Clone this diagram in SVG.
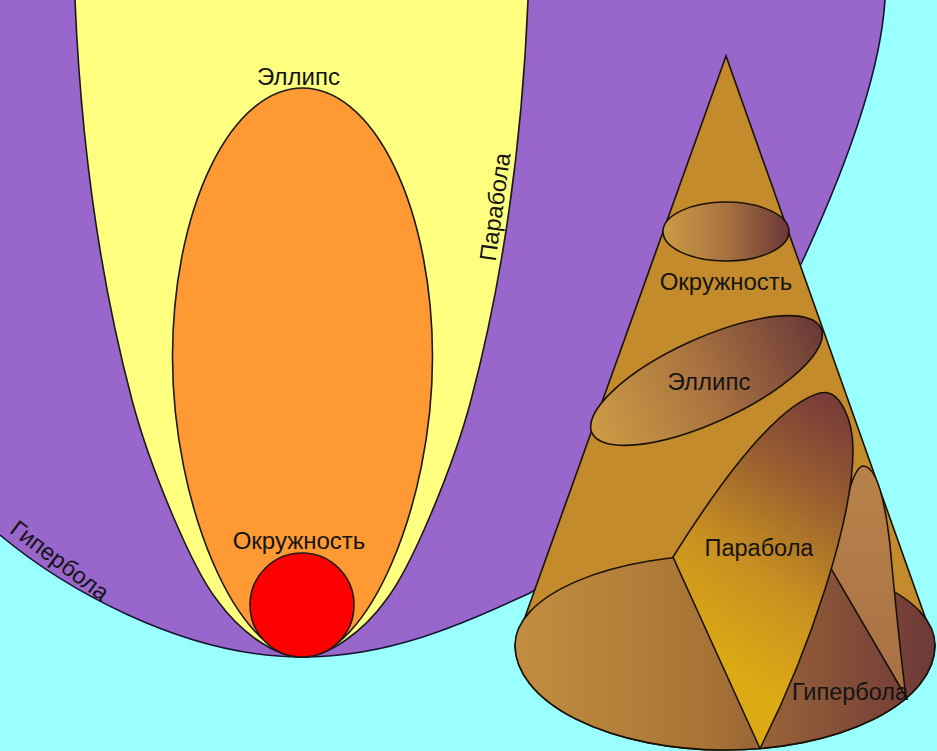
<svg xmlns="http://www.w3.org/2000/svg" width="937" height="751" viewBox="0 0 937 751">
<defs>
<linearGradient id="gBase" gradientUnits="userSpaceOnUse" x1="515" y1="0" x2="935" y2="0">
<stop offset="0" stop-color="#c28e40"/><stop offset="0.45" stop-color="#a87436"/><stop offset="0.72" stop-color="#8a5538"/><stop offset="1" stop-color="#6e3838"/>
</linearGradient>
<linearGradient id="gCirc" gradientUnits="userSpaceOnUse" x1="663" y1="0" x2="789" y2="0">
<stop offset="0" stop-color="#cc9c44"/><stop offset="0.5" stop-color="#a87240"/><stop offset="1" stop-color="#6a3838"/>
</linearGradient>
<linearGradient id="gEll" gradientUnits="userSpaceOnUse" x1="580.5" y1="0" x2="832.5" y2="0">
<stop offset="0" stop-color="#cc9c44"/><stop offset="0.5" stop-color="#a87240"/><stop offset="1" stop-color="#6a3838"/>
</linearGradient>
<linearGradient id="gPar" gradientUnits="userSpaceOnUse" x1="700" y1="650" x2="850" y2="420">
<stop offset="0" stop-color="#dcaa14"/><stop offset="0.35" stop-color="#c89020"/><stop offset="0.7" stop-color="#9a6030"/><stop offset="1" stop-color="#7a3e38"/>
</linearGradient>
<linearGradient id="gHyp" gradientUnits="userSpaceOnUse" x1="0" y1="466" x2="0" y2="697">
<stop offset="0" stop-color="#b8824a"/><stop offset="1" stop-color="#a87044"/>
</linearGradient>
<style>
.lbl{font-family:"Liberation Sans",Arial,sans-serif;font-size:24px;fill:#141414;text-anchor:middle}
.sm{font-size:23.5px}
.edge{fill:none;stroke:#151530;stroke-width:1.6}
.ln{stroke:#1a1208;stroke-width:1.6}
</style>
</defs>
<rect width="937" height="751" fill="#99ffff"/>
<g id="hyperbola-region">
<path d="M0,0 L0,535 C60,585 180,657 302,657 C390,657 460,625 530,593 C650,520 760,350 803,260 C840,180 880,80 885,0 Z" fill="#9966cc"/>
<path class="edge" d="M0,535 C60,585 180,657 302,657 C390,657 460,625 530,593 C650,520 760,350 803,260 C840,180 880,80 885,0"/>
</g>
<g id="parabola-region">
<path d="M75,-10 L75,0 C80,120 95,260 132,400 C150,468 192,568 217,600 C240,632 275,657 301.5,657 C328,657 363,632 386,600 C411,568 453,468 471,400 C508,260 523,120 528,0 L528,-10 Z" fill="#ffff80" stroke="#1a1a1a" stroke-width="1.6"/>
</g>
<g id="ellipse-region">
<path d="M172.5,357 A130,269 0 0 1 432.5,357 C432.5,505 368,657 302.5,657 C237,657 172.5,505 172.5,357 Z" fill="#ff9933" stroke="#1a1a1a" stroke-width="1.6"/>
</g>
<g id="circle-region">
<circle cx="302" cy="605" r="52" fill="#ff0000" stroke="#1a1a1a" stroke-width="1.6"/>
</g>
<g id="left-labels">
<text class="lbl" x="298.5" y="85">Эллипс</text>
<text class="lbl" x="299" y="549">Окружность</text>
<text class="lbl sm" transform="translate(503,208) rotate(-82)" x="0" y="0">Парабола</text>
<text class="lbl sm" transform="translate(55,567) rotate(37)" x="0" y="0">Гипербола</text>
</g>
<g id="cone">
<path id="cone-body" class="ln" d="M726,56 L515,645 A210,105 0 0 0 935,645 Z" fill="#c38b2b"/>
<path id="cone-base" class="ln" d="M515,645 A210,90 0 0 1 935,645 A210,105 0 0 1 515,645 Z" fill="url(#gBase)"/>
<path id="hyperbola-section" class="ln" d="M830,567 C842,525 850,468 863,466 C878,466 886,510 890,545 C895,600 900,650 906,697 Z" fill="url(#gHyp)"/>
<path id="parabola-section" class="ln" d="M673,557 C715,490 775,405 820,393 C840,388 853,420 853,450 C853,520 810,650 760,748.5 Z" fill="url(#gPar)"/>
<ellipse id="circle-section" class="ln" cx="726" cy="231.5" rx="63" ry="29.5" fill="url(#gCirc)"/>
<ellipse id="ellipse-section" class="ln" cx="706.5" cy="380.5" rx="126" ry="42" transform="rotate(-24.6 706.5 380.5)" fill="url(#gEll)"/>
</g>
<g id="cone-labels">
<text class="lbl" x="726" y="290">Окружность</text>
<text class="lbl" x="709" y="390">Эллипс</text>
<text class="lbl sm" x="759" y="556">Парабола</text>
<text class="lbl sm" x="850" y="700">Гипербола</text>
</g>
</svg>
